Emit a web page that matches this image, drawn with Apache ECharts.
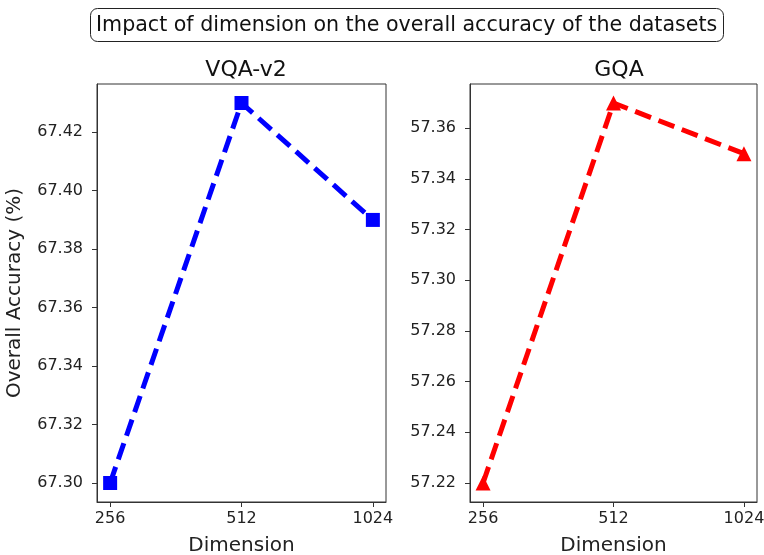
<!DOCTYPE html>
<html>
<head>
<meta charset="utf-8">
<script src="https://cdn.jsdelivr.net/npm/echarts@6/dist/echarts.min.js"></script>
<style>html,body{margin:0;padding:0;background:#fff}#c{width:764px;height:555px}</style>
</head>
<body>
<div id="c"></div>
<script>
var dimensions = ['256', '512', '1024'];
var vqaValues = [67.30, 67.43, 67.39];
var gqaValues = [57.22, 57.37, 57.35];
var vqaTicks = [67.30, 67.32, 67.34, 67.36, 67.38, 67.40, 67.42];
var gqaTicks = [57.22, 57.24, 57.26, 57.28, 57.30, 57.32, 57.34, 57.36];
var mainTitle = 'Impact of dimension on the overall accuracy of the datasets';
var subTitles = ['VQA-v2', 'GQA'];

var FONT = 'DejaVu Sans';
var xIdx = dimensions.map(function (d, i) { return i; });

function range(vals) {
  var mn = Math.min.apply(null, vals), mx = Math.max.apply(null, vals);
  var m = (mx - mn) * 0.05;
  return [mn - m, mx + m];
}
var vr = range(vqaValues), gr = range(gqaValues);

function xAxis(gi) {
  return {
    type: 'value', gridIndex: gi, min: -0.1, max: 2.1, scale: true,
    name: 'Dimension', nameLocation: 'middle', nameGap: 34,
    nameTextStyle: { fontFamily: FONT, fontSize: 20, color: '#222' },
    axisLine: { show: true, onZero: false, lineStyle: { color: '#333', width: 1 } },
    splitLine: { show: false },
    axisTick: { show: true, customValues: xIdx, length: 5, lineStyle: { color: '#333' } },
    axisLabel: { customValues: xIdx, fontFamily: FONT, fontSize: 16, color: '#222', margin: 9,
      formatter: function (v) { return dimensions[Math.round(v)]; } }
  };
}
function yAxis(gi, r, ticks, name) {
  return {
    type: 'value', gridIndex: gi, min: r[0], max: r[1], scale: true,
    name: name, nameLocation: 'middle', nameGap: 72,
    nameTextStyle: { fontFamily: FONT, fontSize: 20, color: '#222' },
    axisLine: { show: true, onZero: false, lineStyle: { color: '#333', width: 1 } },
    splitLine: { show: false },
    axisTick: { show: true, customValues: ticks, length: 5, lineStyle: { color: '#333' } },
    axisLabel: { customValues: ticks, fontFamily: FONT, fontSize: 16, color: '#222', margin: 14,
      formatter: function (v) { return v.toFixed(2); } }
  };
}

var chart = echarts.init(document.getElementById('c'), null, { renderer: 'canvas' });
chart.setOption({
  animation: false,
  backgroundColor: '#fff',
  title: [
    { text: mainTitle, left: 90, top: 8, padding: [7, 6, 6, 6], borderColor: '#222', borderWidth: 1, borderRadius: 7,
      backgroundColor: '#fff',
      textStyle: { fontFamily: FONT, fontSize: 20.6, fontWeight: 'normal', color: '#111' } },
    { text: subTitles[0], left: 241, textAlign: 'center', top: 54,
      textStyle: { fontFamily: FONT, fontSize: 22, fontWeight: 'normal', color: '#111' } },
    { text: subTitles[1], left: 614, textAlign: 'center', top: 54,
      textStyle: { fontFamily: FONT, fontSize: 22, fontWeight: 'normal', color: '#111' } }
  ],
  grid: [
    { left: 97, top: 84, width: 289, height: 418, outerBoundsMode: 'none', containLabel: false,
      show: true, borderColor: '#333', borderWidth: 1, backgroundColor: '#fff' },
    { left: 470, top: 84, width: 287, height: 418, outerBoundsMode: 'none', containLabel: false,
      show: true, borderColor: '#333', borderWidth: 1, backgroundColor: '#fff' }
  ],
  xAxis: [xAxis(0), xAxis(1)],
  yAxis: [yAxis(0, vr, vqaTicks, 'Overall Accuracy (%)'), yAxis(1, gr, gqaTicks, '')],
  series: [
    { type: 'line', xAxisIndex: 0, yAxisIndex: 0,
      data: vqaValues.map(function (v, i) { return [i, v]; }),
      symbol: 'rect', symbolSize: 14,
      itemStyle: { color: '#0000ff' },
      lineStyle: { color: '#0000ff', width: 5, type: [17, 8] } },
    { type: 'line', xAxisIndex: 1, yAxisIndex: 1,
      data: gqaValues.map(function (v, i) { return [i, v]; }),
      symbol: 'triangle', symbolSize: 15,
      itemStyle: { color: '#ff0000' },
      lineStyle: { color: '#ff0000', width: 5, type: [17, 8] } }
  ]
});
</script>
</body>
</html>
